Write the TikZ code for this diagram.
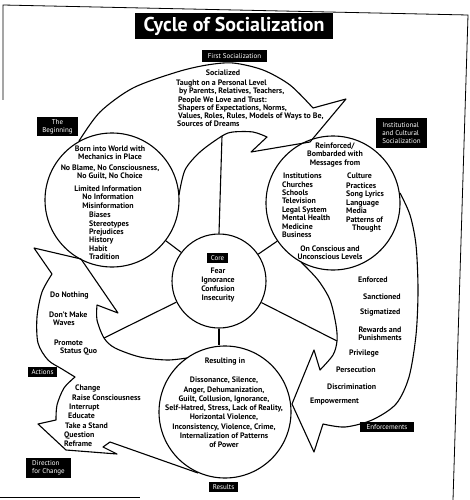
\documentclass[tikz,border=0pt]{standalone}
\usepackage{fontspec}
\setmainfont{PT Sans}
\usepackage{tikz}

\begin{document}
\begin{tikzpicture}[x=1pt,y=-1pt,
        tag/.style={fill=black, text=white, inner sep=0pt, align=center, font=\fontsize{7}{8.3}\selectfont},
        ring/.style={circle, draw, line width=1.1pt, inner sep=0pt},
        txt/.style={inner sep=0pt, font=\fontsize{7.9}{8.4}\selectfont\bfseries},
        wide/.style={inner sep=0pt, font=\fontsize{7.9}{9.3}\selectfont\bfseries},
        edge/.style={line width=1.1pt, line join=round}]
        \useasboundingbox (0,0) rectangle (470,500);
        \draw[line width=0.8pt] (3,100) -- (3,5) -- (468,15) -- (453,500);
        \draw[line width=0.8pt] (0,497) -- (140,497);
        \node[tag, minimum width=198pt, minimum height=26pt, font=\fontsize{20}{22}\selectfont\bfseries] (title) at (234,26) {Cycle of Socialization};

        \node[ring, minimum size=134pt] (begin) at (112,200) {};
        \node[ring, minimum size=134pt] (inst) at (333,203) {};
        \node[ring, minimum size=94pt] (core) at (219,281) {};
        \node[ring, minimum size=132pt] (results) at (225,412) {};

        \coordinate (topsp) at (222,136);
        \coordinate (enfsp) at (337,341);
        \coordinate (actsp) at (104,338);

        % the three flow arrows
        \draw[edge] plot[smooth] coordinates {(79,141) (100,112) (133,88) (177,72) (207,65) (233,63) (263,70) (290,85) (313,108)}
            -- (346,99) -- (310,142) -- (251,152) -- (267,137)
            -- plot[smooth] coordinates {(267,137) (253,132) (233,132) (topsp) (200,152) (185,170) (179,195)};
        \draw[edge] plot[smooth] coordinates {(400,193) (410,215) (416,245) (418,290) (416,335) (409,377) (396,404) (372,420) (345,427) (323,424)}
            -- (314,452) -- (292,404) -- (314,350) -- (320,370)
            -- plot[smooth] coordinates {(320,370) (333,355) (enfsp) (336,325) (330,300) (318,280) (301,262)};
        \draw[edge] plot[smooth] coordinates {(187,358) (167,360) (140,357) (115,348) (actsp) (97,320) (97,305)}
            -- (118,313) -- (81,259) -- (34,248) -- (52,274)
            -- plot[smooth] coordinates {(52,274) (42,292) (37,317) (38,343) (48,360) (62,369) (75,377)}
            -- plot[smooth] coordinates {(75,377) (64,388) (57,405) (56,420)}
            -- (38,424) -- (66,450) -- (117,454) -- (103,447) -- (110,442) -- (198,473);

        \draw[edge] (core.north) -- (topsp);
        \draw[edge] (core) -- (begin);
        \draw[edge] (core) -- (inst);
        \draw[edge] (core) -- (actsp);
        \draw[edge] (core) -- (enfsp);
        \draw[edge] (core.south) -- (core.south |- results.north);

        \node[txt] (socd) at (223,73) {Socialized};
        \node[txt, anchor=west, align=left, font=\fontsize{7.9}{8.2}\selectfont\bfseries] (taught) at (176,103.5) {Taught on a Personal Level\\\hspace*{3pt}by Parents, Relatives, Teachers,\\\hspace*{2pt}People We Love and Trust:\\\hspace*{2pt}Shapers of Expectations, Norms,\\\hspace*{2pt}Values, Roles, Rules, Models of Ways to Be,\\\hspace*{1pt}Sources of Dreams};

        \node[txt, align=center] (born) at (110,152.5) {Born into World with\\Mechanics in Place};
        \node[txt, align=center] (noblame) at (110,172.5) {No Blame, No Consciousness,\\No Guilt, No Choice};
        \node[txt, align=center] (limited) at (108,197) {Limited Information\\No Information\\Misinformation};
        \node[txt, anchor=west, align=left] (biases) at (89,236) {Biases\\Stereotypes\\Prejudices\\History\\Habit\\Tradition};

        \node[txt, align=center] (reinf) at (335,155) {Reinforced/\\Bombarded with\\Messages from};
        \node[txt, anchor=west] (instit) at (283,176) {Institutions};
        \node[txt, anchor=west] (cult) at (347,176) {Culture};
        \node[txt, anchor=west, align=left] (instlist) at (282,209.5) {Churches\\Schools\\Television\\Legal System\\Mental Health\\Medicine\\Business};
        \node[txt, anchor=west, align=left] (cultlist) at (346,207.5) {Practices\\Song Lyrics\\Language\\Media\\Patterns of\\\hspace*{6pt}Thought};
        \node[txt, align=center] (levels) at (330,253) {On Conscious and\\Unconscious Levels};

        \node[wide, align=center] (fear) at (218,285) {Fear\\Ignorance\\Confusion\\Insecurity};

        \node[txt] (resin) at (225,362) {Resulting in};
        \node[wide, align=center] (reslist) at (224,412.5) {Dissonance, Silence,\\Anger, Dehumanization,\\Guilt, Collusion, Ignorance,\\Self-Hatred, Stress, Lack of Reality,\\Horizontal Violence,\\Inconsistency, Violence, Crime,\\Internalization of Patterns\\of Power};

        \node[txt, anchor=west] (enforced) at (358,280) {Enforced};
        \node[txt, anchor=west] (sanct) at (363,297) {Sanctioned};
        \node[txt, anchor=west] (stigma) at (360,313) {Stigmatized};
        \node[txt, align=center] (rewards) at (380,333.5) {Rewards and\\Punishments};
        \node[txt, anchor=west] (privil) at (349,354) {Privilege};
        \node[txt, anchor=west] (persec) at (336,370) {Persecution};
        \node[txt, anchor=west] (discrim) at (327,387) {Discrimination};
        \node[txt, anchor=west] (empow) at (310,402) {Empowerment};

        \node[txt, anchor=west] (donothing) at (50,296) {Do Nothing};
        \node[txt, anchor=west, align=left] (waves) at (49,319) {Don't Make\\\hspace*{4pt}Waves};
        \node[txt, anchor=west, align=left] (quo) at (54,347.5) {Promote\\\hspace*{6pt}Status Quo};
        \node[wide, anchor=west, align=left] (change) at (64,416) {\hspace*{11pt}Change\\\hspace*{8pt}Raise Consciousness\\\hspace*{5pt}Interrupt\\\hspace*{4pt}Educate\\\hspace*{1pt}Take a Stand\\Question\\Reframe};

        \node[tag, minimum width=65pt, minimum height=12pt] (firsttag) at (234.5,56) {First Socialization};
        \node[tag, minimum width=41pt, minimum height=19pt] (begintag) at (57.5,126.5) {The\\Beginning};
        \node[tag, minimum width=51pt, minimum height=30pt, align=left] (insttag) at (401.5,133) {Institutional\\and Cultural\\Socialization};
        \node[tag, minimum width=21pt, minimum height=10pt] (coretag) at (217.5,258) {Core};
        \node[tag, minimum width=29pt, minimum height=10pt] (acttag) at (42.5,372) {Actions};
        \node[tag, minimum width=45pt, minimum height=20pt, align=left] (dirtag) at (48.5,468) {Direction\\for Change};
        \node[tag, minimum width=29pt, minimum height=10pt] (restag) at (223.5,487) {Results};
        \node[tag, minimum width=54pt, minimum height=10pt] (enftag) at (387,427) {Enforcements};
    \end{tikzpicture}
\end{document}
